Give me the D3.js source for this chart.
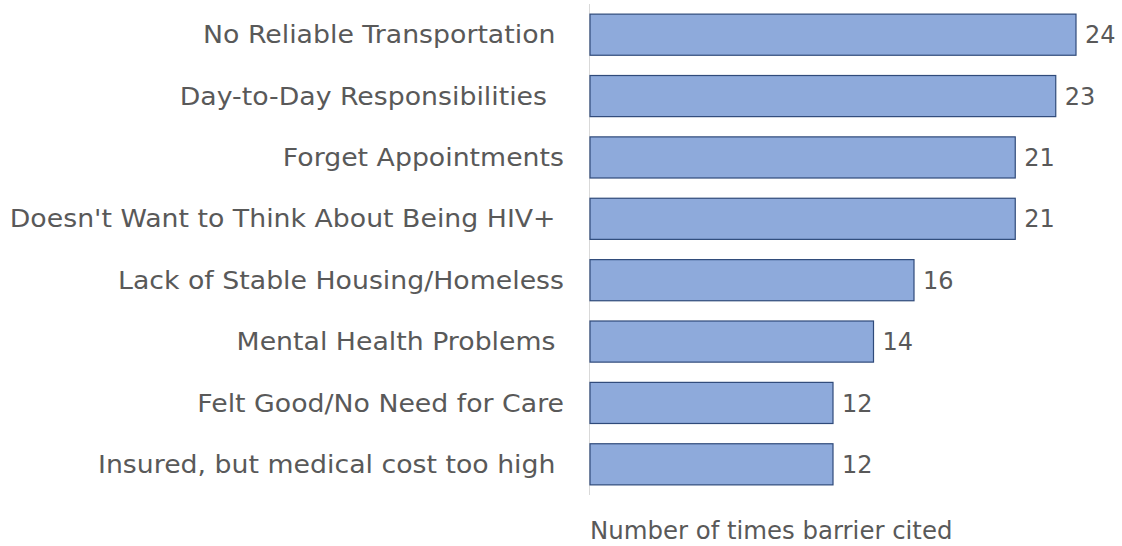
<!DOCTYPE html>
<html><head><meta charset="utf-8">
<script src="https://cdn.jsdelivr.net/npm/d3@7"></script>
<style>body{margin:0;background:#fff}svg{display:block}text{white-space:pre}</style>
</head><body>
<svg id="c" width="1122" height="546"></svg>
<script>
const categories = ["No Reliable Transportation ","Day-to-Day Responsibilities  ","Forget Appointments","Doesn't Want to Think About Being HIV+ ","Lack of Stable Housing/Homeless","Mental Health Problems ","Felt Good/No Need for Care","Insured, but medical cost too high "];
const values = [24,23,21,21,16,14,12,12];
const axisTitle = "Number of times barrier cited";

const svg = d3.select("#c");
const font = "'DejaVu Sans', Verdana, sans-serif";
const x = d3.scaleLinear().domain([0,24]).range([590,1076]);
const y = d3.scaleBand().domain(categories).range([4,495]).paddingInner(0.33).paddingOuter(0.165);

svg.append("line").attr("x1",589.5).attr("x2",589.5).attr("y1",4).attr("y2",495).attr("stroke","#d9d9d9").attr("stroke-width",1);

svg.selectAll("rect.bar").data(values).join("rect").attr("class","bar")
  .attr("x",x(0)).attr("y",(d,i)=>y(categories[i]))
  .attr("width",d=>x(d)-x(0)).attr("height",y.bandwidth())
  .attr("fill","#8eaadb").attr("stroke","#2f4a7a").attr("stroke-width",1.2);

svg.selectAll("text.val").data(values).join("text").attr("class","val")
  .attr("x",d=>x(d)+9).attr("y",(d,i)=>y(categories[i])+y.bandwidth()/2)
  .attr("dy","0.36em").attr("font-family",font).attr("font-size",24).attr("fill","#595959").text(d=>d);

const lg = svg.append("g").attr("transform","translate(564,0) scale(1.115,1)");
lg.selectAll("text.cat").data(categories).join("text").attr("class","cat")
  .attr("x",0).attr("y",d=>y(d)+y.bandwidth()/2).attr("dy","0.36em")
  .attr("text-anchor","end").attr("font-family",font).attr("font-size",24).attr("fill","#595959").text(d=>d);

svg.append("text").attr("x",590).attr("y",539).attr("font-family",font).attr("font-size",24.4).attr("fill","#595959").text(axisTitle);
</script>
</body></html>
